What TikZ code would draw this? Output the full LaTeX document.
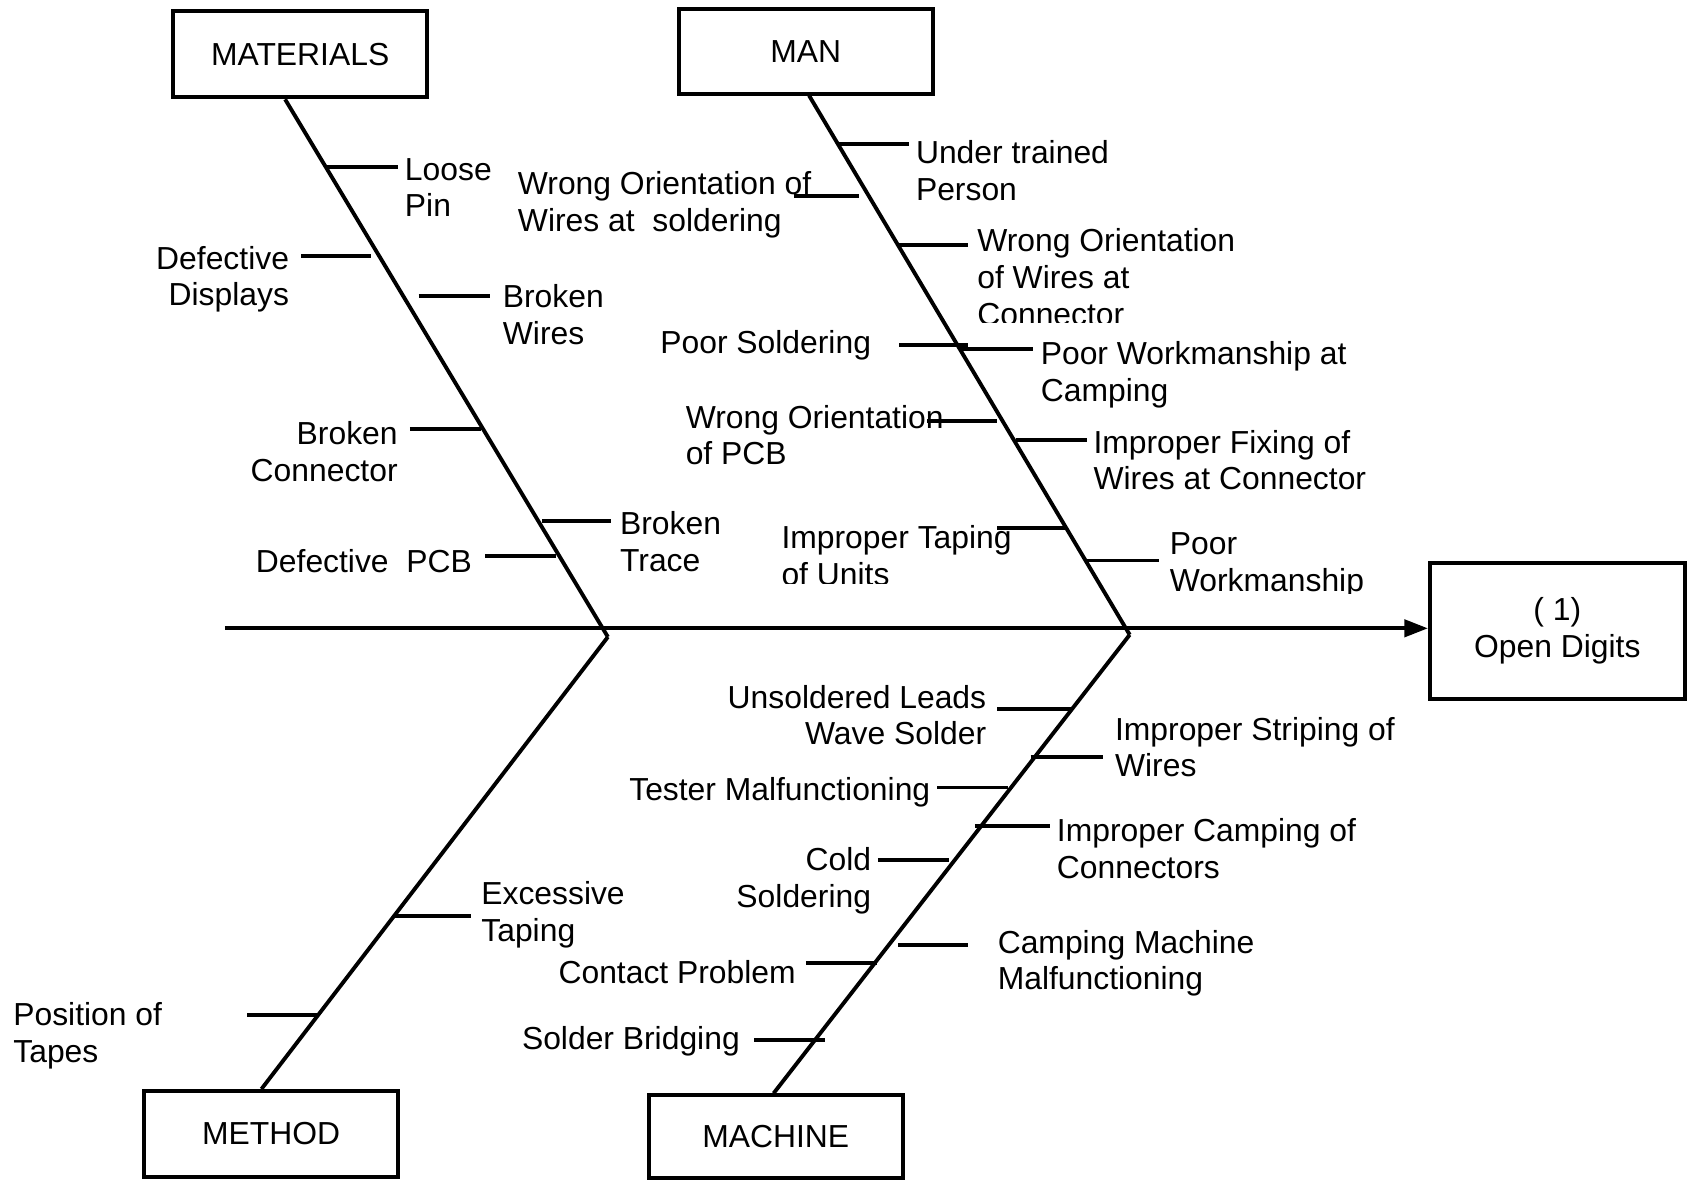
\documentclass[tikz,border=0pt]{standalone}
\usepackage{fontspec}
\setmainfont{Liberation Sans}
\usetikzlibrary{arrows.meta}

\begin{document}
\begin{tikzpicture}[x=0.5pt,y=-0.5pt]
    \tikzset{line/.style={draw,line width=1.8pt}}
    \tikzset{arrow/.style={line,-{Triangle[length=11pt,width=8pt]}}}
    \tikzset{box/.style={line,minimum width=118pt,minimum height=40pt,font=\fontsize{14.8pt}{17pt}\selectfont}}
    \tikzset{cause/.style={inner sep=0pt,yshift=-1.25pt,font=\fontsize{14.8pt}{17pt}\selectfont}}
    \tikzset{causeL/.style={cause,anchor=west,align=left}}
    \tikzset{causeR/.style={cause,anchor=east,align=right}}

    \useasboundingbox (0,0) rectangle (1568,1096);

    % heads of the bones
    \node[box] (mat) at (279,50.5) {MATERIALS};
    \node[box,minimum height=39.5pt] (man) at (749,47.5) {MAN};
    \node[box] (met) at (252,1054) {METHOD};
    \node[box,minimum height=38.5pt] (mach) at (721,1056.5) {MACHINE};
    \node[box,minimum width=118.5pt,minimum height=63.5pt,align=center] (eff) at (1447.5,586.5) {( 1)\\Open Digits};

    % spine and bones
    \coordinate (tail) at (209,584);
    \coordinate (j1) at (565,592);
    \coordinate (j2) at (1050,590);
    \path[arrow] (tail) -- (tail -| eff.west);
    \path[line] ([xshift=-7pt]mat.south) -- (j1);
    \path[line] ([xshift=1.5pt]man.south) -- (j2);
    \path[line] (j1) -- ([xshift=-4.5pt]met.north);
    \path[line] (j2) -- ([xshift=-1pt]mach.north);

    % materials
    \node[causeL] (loose) at (376,172) {Loose\\Pin};
    \node[causeR] (defdisp) at (269,257) {Defective\\Displays};
    \node[causeL] (brwires) at (467,290) {Broken\\Wires};
    \node[causeR] (brconn) at (370,417) {Broken\\Connector};
    \node[causeL] (brtrace) at (576,501) {Broken\\Trace};
    \node[causeR] (defpcb) at (439,519) {Defective~~PCB};
    \path[line] (302,155) -- (370,155);
    \path[line] (280,238) -- (345,238);
    \path[line] (389,275) -- (455,275);
    \path[line] (381,399) -- (447,399);
    \path[line] (504,484) -- (568,484);
    \path[line] (451,517) -- (517,517);

    % man
    \node[causeL] (untrained) at (851,156) {Under trained\\Person};
    \node[causeL] (wosold) at (481,188) {Wrong Orientation of\\Wires at~~soldering};
    \begin{scope}
        \clip (900,190) rectangle (1200,299.5);
        \node[causeL] (woconn) at (908,255) {Wrong Orientation\\of Wires at\\Connector};
    \end{scope}
    \node[causeR] (poorsold) at (810,318) {Poor Soldering};
    \node[causeL] (poorcamp) at (967,346) {Poor Workmanship at\\Camping};
    \node[causeL] (wopcb) at (637,402) {Wrong Orientation\\of PCB};
    \node[causeL] (fixing) at (1016,425) {Improper Fixing of\\Wires at Connector};
    \begin{scope}
        \clip (700,470) rectangle (960,542.5);
        \node[causeL] (taping) at (726,514) {Improper Taping\\of Units};
    \end{scope}
    \begin{scope}
        \clip (1080,480) rectangle (1300,551.5);
        \node[causeL] (poorwork) at (1087,523) {Poor\\Workmanship};
    \end{scope}
    \path[line] (778,134) -- (845,134);
    \path[line] (738,182) -- (798,182);
    \path[line] (835,228) -- (900,228);
    \path[line] (836,321) -- (900,321);
    \path[line] (893,324) -- (960,324);
    \path[line] (862,391) -- (927,391);
    \path[line] (944,409) -- (1010,409);
    \path[line] (927,491) -- (991,491);
    \path[line] (1010,521) -- (1077,521);

    % method
    \node[causeL] (excess) at (447,848) {Excessive\\Taping};
    \node[causeL] (position) at (12,960) {Position of\\Tapes};
    \path[line] (366,851) -- (438,851);
    \path[line] (230,943) -- (296,943);

    % machine
    \node[causeR] (unsold) at (917,662) {Unsoldered Leads\\Wave Solder};
    \node[causeL] (striping) at (1036,692) {Improper Striping of\\Wires};
    \node[causeR] (tester) at (865,734) {Tester Malfunctioning};
    \node[causeL] (camping) at (982,786) {Improper Camping of\\Connectors};
    \node[causeR] (cold) at (810,816) {Cold\\Soldering};
    \node[causeL] (campmach) at (927,893) {Camping Machine\\Malfunctioning};
    \node[causeR] (contact) at (740,901) {Contact Problem};
    \node[causeR] (bridging) at (688,965) {Solder Bridging};
    \path[line] (927,659) -- (995,659);
    \path[line] (958,704) -- (1025,704);
    \path[line] (871,732) -- (937,732);
    \path[line] (906,768) -- (976,768);
    \path[line] (816,799) -- (882,799);
    \path[line] (835,878) -- (900,878);
    \path[line] (749,895) -- (815,895);
    \path[line] (701,967) -- (767,967);
\end{tikzpicture}
\end{document}
